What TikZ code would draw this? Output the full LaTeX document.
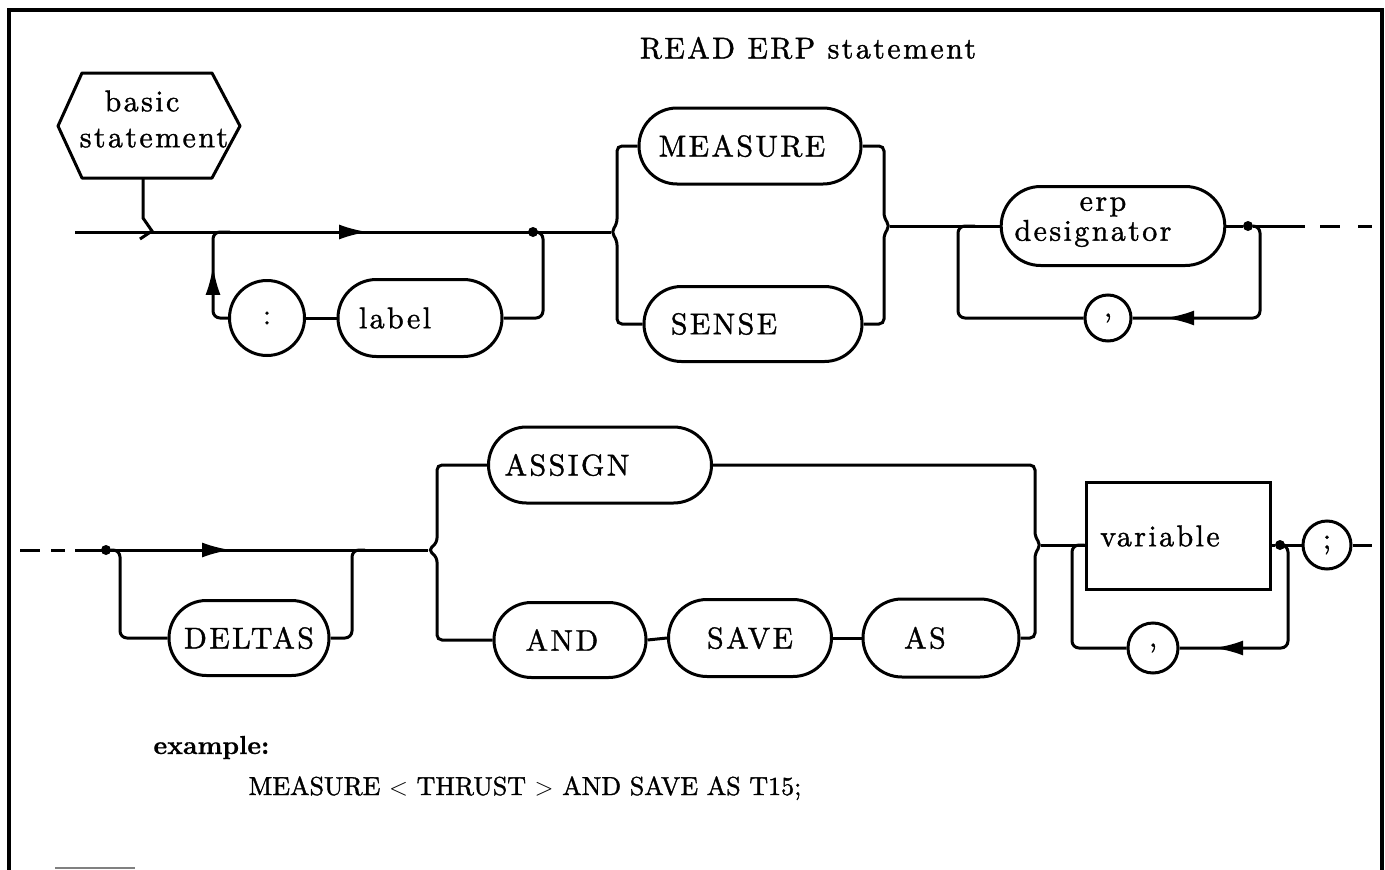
\documentclass[tikz,border=0pt]{standalone}
\usepackage{fontspec}
\newfontfamily\tw{lmroman10-regular.otf}[LetterSpace=8,FakeBold=1.2,BoldFont=lmroman10-bold.otf,BoldFeatures={FakeBold=0.6}]
\newfontfamily\twn{lmroman10-regular.otf}[FakeBold=1.4,BoldFont=lmroman10-bold.otf,BoldFeatures={FakeBold=0.6}]
\usetikzlibrary{shapes.misc,arrows.meta,decorations.markings}
\begin{document}
\begin{tikzpicture}[x=1pt,y=-1pt,
  every node/.style={font=\tw\fontsize{30}{30}\selectfont},
  extext/.style={font=\twn\fontsize{26}{30}\selectfont, anchor=base west},
  ln/.style={line width=3pt, rounded corners=7pt},
  pill/.style={draw, line width=3pt, rounded rectangle, inner sep=1pt},
  circ/.style={draw, circle, line width=3pt, inner sep=0pt, minimum size=#1},
  dotn/.style={circle, fill, inner sep=0pt, minimum size=10pt},
  midarrow/.style={postaction={decorate}, decoration={markings,
     mark=at position #1 with {\arrow{Latex[length=29pt,width=15pt]}}}}]
\useasboundingbox (0,0) rectangle (1385,870);
% frame
\draw[line width=3.5pt] (9,870) -- (9,10) -- (1382,10) -- (1382,870);
\draw[gray, line width=1.5pt] (55,868) -- (135,868);
% title
\node (title) at (808,48) {READ ERP statement};
% ---------- row 1 ----------
\draw[line width=3pt, line join=round] (58,126) -- (82,73) -- (212,73) -- (240,126) -- (212,178) -- (82,178) -- cycle;
\node[align=center] (hex) at (149,119) {basic\hspace*{14pt}\\[6pt]\hspace*{10pt}statement};
\coordinate (hexb) at (143,178);
\draw[line width=3pt] (hexb) -- (143,218) -- (152,231) -- (140,239);
\coordinate (s1) at (75,232);
\coordinate (b1) at (611,232);
\draw[ln, midarrow=293pt] (s1) -- (b1);
\node[dotn] (dot1) at (533,232) {};
\node[circ=75pt] (colon) at (267,318) {:};
\node[pill, minimum width=166pt, minimum height=77pt] (lbl) at (420,318) {label\hspace*{50pt}};
\draw[ln, midarrow=64pt] (colon.west) -| (213,232) -- (230,232);
\draw[ln] (colon.east) -- (lbl.west);
\draw[ln] (lbl.east) -| (543,232) -- (dot1);
\node[pill, minimum width=224pt, minimum height=76pt] (meas) at (750,146) {MEASURE\hspace*{16pt}};
\node[pill, minimum width=220pt, minimum height=75pt] (sense) at (753,324) {SENSE\hspace*{58pt}};
\draw[ln, rounded corners=5pt] (meas.west) -- (617,146) -- (617,224) -- (b1) -- (617,240) -- (617,324) -- (sense.west);
\coordinate (b2) at (890,226);
\draw[ln, rounded corners=5pt] (meas.east) -- (884,146) -- (884,218) -- (b2) -- (884,234) -- (884,324) -- (sense.east);
\node[pill, minimum width=220pt, minimum height=79pt, align=center] (erp) at (1113,226) {erp\hspace*{20pt}\\designator\hspace*{40pt}\rule[-14pt]{0pt}{14pt}};
\draw[ln] (b2) -- (erp.west);
\node[dotn] (dot2) at (1248,226) {};
\coordinate (e1) at (1305,226);
\coordinate (e2) at (1372,226);
\draw[ln] (erp.east) -- (dot2) -- (e1);
\draw[line width=3pt, dash pattern=on 20pt off 18pt on 14pt off 30pt] (1320,226) -- (e2);
\node[circ=46pt] (commaA) at (1108,318) {,};
\draw[ln, midarrow=188pt] (dot2) -- (1260,226) |- (commaA.east);
\draw[ln] (commaA.west) -| (958,226) -- (975,226);
% ---------- row 2 ----------
\draw[line width=3pt, dash pattern=on 20pt off 11pt on 14pt off 100pt] (20,550) -- (66,550);
\coordinate (s2) at (75,550);
\coordinate (b3) at (428,550);
\draw[ln, midarrow=156pt] (s2) -- (b3);
\node[dotn] (dot4) at (106,550) {};
\node[pill, minimum width=162pt, minimum height=75pt] (deltas) at (249,638) {DELTAS};
\draw[ln] (dot4) -- (120,550) |- (deltas.west);
\draw[ln] (deltas.east) -| (352,550) -- (365,550);
\node[pill, minimum width=225pt, minimum height=76pt] (assign) at (600,465) {ASSIGN\hspace*{66pt}};
\node[pill, minimum width=154pt, minimum height=75pt] (and) at (570,640) {AND\hspace*{16pt}};
\node[pill, minimum width=165pt, minimum height=77pt] (save) at (750,638) {SAVE};
\node[pill, minimum width=158pt, minimum height=78pt] (as) at (941,638) {AS\hspace*{32pt}};
\draw[ln, rounded corners=5pt] (assign.west) -- (437,465) -- (437,543) -- (b3) -- (437,557) -- (437,640) -- (and.west);
\draw[ln] (and.east) -- (save.west);
\draw[ln] (save.east) -- (as.west);
\coordinate (b4) at (1041,545);
\draw[ln, rounded corners=5pt] (assign.east) -- (1035,465) -- (1035,537) -- (b4) -- (1035,553) -- (1035,638) -- (as.east);
\node[draw, rectangle, line width=3pt, minimum width=184pt, minimum height=107pt] (var) at (1178,536) {variable\hspace*{36pt}};
\draw[ln] (b4) -- (b4 -| var.west);
\node[dotn] (dot3) at (1280,545) {};
\node[circ=48pt] (semi) at (1327,545) {;};
\coordinate (e3) at (1372,545);
\draw[ln] (dot3 -| var.east) -- (dot3) -- (semi.west);
\draw[ln] (semi.east) -- (e3);
\node[circ=50pt] (commaB) at (1153,648) {,};
\draw[ln, midarrow=182pt] (dot3) -- (1288,545) |- (commaB.east);
\draw[ln] (commaB.west) -| (1072,545) -- (b4 -| var.west);
% example
\node[extext] (ex) at (150,754) {\bfseries example:};
\node[extext] (exline) at (245,795) {MEASURE $<$ THRUST $>$ AND SAVE AS T15;};
\end{tikzpicture}
\end{document}
